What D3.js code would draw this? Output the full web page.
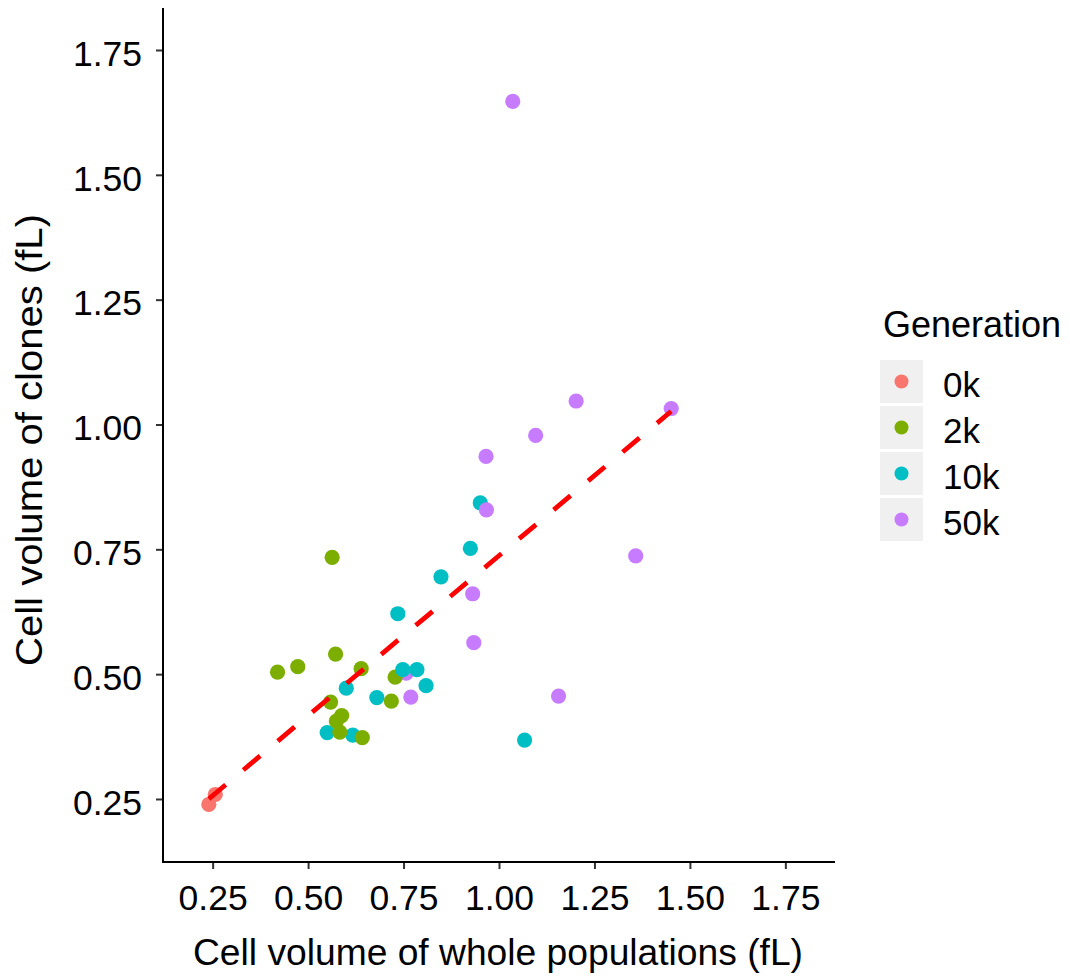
<!DOCTYPE html>
<html>
<head>
<meta charset="utf-8">
<script src="https://cdn.jsdelivr.net/npm/d3@7"></script>
<style>
  body { margin: 0; background: #fff; }
  text { font-family: "Liberation Sans", Arial, Helvetica, sans-serif; fill: #000; }
</style>
</head>
<body>
<div id="chart"></div>
<script>
// generation levels and ggplot default hue colours
const generations = ["0k", "2k", "10k", "50k"];
const genColors = ["#F8766D", "#7CAE00", "#00BFC4", "#C77CFF"];

// one entry per clone, in drawing order
const pointGen = [
    "0k", "0k",
    "50k",
    "2k",
    "10k", "10k", "10k", "10k", "10k", "10k", "10k", "10k", "10k", "10k", "10k", "10k",
    "2k", "2k", "2k", "2k", "2k", "2k", "2k", "2k", "2k", "2k", "2k",
    "50k", "50k", "50k", "50k", "50k", "50k", "50k", "50k", "50k", "50k", "50k"
];
const popVolume = [
    0.240, 0.257,
    0.757,
    0.728,
    0.748, 0.785, 0.951, 0.925, 0.848, 0.735, 0.809, 1.067, 0.600, 0.680, 0.550, 0.617,
    0.563, 0.420, 0.473, 0.572, 0.639, 0.559, 0.588, 0.574, 0.583, 0.642, 0.718,
    1.036, 1.202, 1.451, 1.096, 0.966, 0.967, 1.358, 0.931, 0.934, 1.156, 0.769
];
const cloneVolume = [
    0.239, 0.259,
    0.502,
    0.494,
    0.509, 0.509, 0.843, 0.752, 0.695, 0.621, 0.477, 0.368, 0.472, 0.453, 0.383, 0.378,
    0.734, 0.504, 0.515, 0.540, 0.511, 0.444, 0.417, 0.406, 0.384, 0.373, 0.446,
    1.647, 1.047, 1.032, 0.978, 0.936, 0.829, 0.737, 0.661, 0.563, 0.456, 0.454
];

const tickVals = [0.25, 0.50, 0.75, 1.00, 1.25, 1.50, 1.75];

const width = 1070;
const height = 980;

const svg = d3.select("#chart")
    .append("svg")
    .attr("width", width)
    .attr("height", height);

const x = d3.scaleLinear().domain([0.12, 1.88]).range([163, 835]);
const y = d3.scaleLinear().domain([0.1238, 1.8341]).range([862, 8]);
const color = d3.scaleOrdinal().domain(generations).range(genColors);

// axes
const xAxis = svg.append("g")
    .attr("transform", "translate(0,862)")
    .call(d3.axisBottom(x).tickValues(tickVals).tickFormat(d3.format(".2f")).tickSize(7));
xAxis.select(".domain").remove();
xAxis.selectAll(".tick line").attr("stroke", "#333").attr("stroke-width", 2);
xAxis.selectAll(".tick text")
    .attr("y", 48).attr("dy", null)
    .attr("font-size", "35.5px").attr("fill", "#000");

const yAxis = svg.append("g")
    .attr("transform", "translate(163,0)")
    .call(d3.axisLeft(y).tickValues(tickVals).tickFormat(d3.format(".2f")).tickSize(7));
yAxis.select(".domain").remove();
yAxis.selectAll(".tick line").attr("stroke", "#333").attr("stroke-width", 2);
yAxis.selectAll(".tick text")
    .attr("x", -21).attr("dy", "0.43em")
    .attr("font-size", "35.5px").attr("fill", "#000");

svg.append("line")
    .attr("x1", 163).attr("x2", 163).attr("y1", y.range()[1]).attr("y2", 863)
    .attr("stroke", "#000").attr("stroke-width", 2);
svg.append("line")
    .attr("x1", 162).attr("x2", 835).attr("y1", 862).attr("y2", 862)
    .attr("stroke", "#000").attr("stroke-width", 2);

// points
const pts = pointGen.map((g, i) => ({ g, x: popVolume[i], y: cloneVolume[i] }));

svg.append("g").selectAll("circle")
    .data(pts)
    .enter()
    .append("circle")
    .attr("cx", d => x(d.x))
    .attr("cy", d => y(d.y))
    .attr("r", 7.6)
    .attr("fill", d => color(d.g));

// least-squares line over all clones
const mx = d3.mean(popVolume), my = d3.mean(cloneVolume);
const slope = d3.sum(popVolume, (v, i) => (v - mx) * (cloneVolume[i] - my)) /
    d3.sum(popVolume, v => (v - mx) * (v - mx));
const icpt = my - slope * mx;
const [x0, x1] = d3.extent(popVolume);

svg.append("line")
    .attr("x1", x(x0)).attr("y1", y(icpt + slope * x0))
    .attr("x2", x(x1)).attr("y2", y(icpt + slope * x1))
    .attr("stroke", "#FF0000")
    .attr("stroke-width", 4.8)
    .attr("stroke-dasharray", "22,23");

// axis titles
svg.append("text")
    .attr("x", 498).attr("y", 965)
    .attr("text-anchor", "middle")
    .attr("font-size", "37px")
    .attr("textLength", 610)
    .attr("lengthAdjust", "spacingAndGlyphs")
    .text("Cell volume of whole populations (fL)");

svg.append("text")
    .attr("transform", "translate(42,440) rotate(-90)")
    .attr("text-anchor", "middle")
    .attr("font-size", "37px")
    .attr("textLength", 452)
    .attr("lengthAdjust", "spacingAndGlyphs")
    .text("Cell volume of clones (fL)");

// legend
const legend = svg.append("g");
legend.append("text")
    .attr("x", 883).attr("y", 337)
    .attr("font-size", "36px")
    .text("Generation");

const key = legend.selectAll("g.key")
    .data(generations)
    .enter()
    .append("g")
    .attr("class", "key")
    .attr("transform", (d, i) => `translate(880,${360 + i * 46})`);

key.append("rect")
    .attr("width", 43).attr("height", 43)
    .attr("fill", "#F0F0F0");
key.append("circle")
    .attr("cx", 21.5).attr("cy", 21.5).attr("r", 7)
    .attr("fill", d => color(d));
key.append("text")
    .attr("x", 63).attr("y", 37)
    .attr("font-size", "35px")
    .text(d => d);
</script>
</body>
</html>
